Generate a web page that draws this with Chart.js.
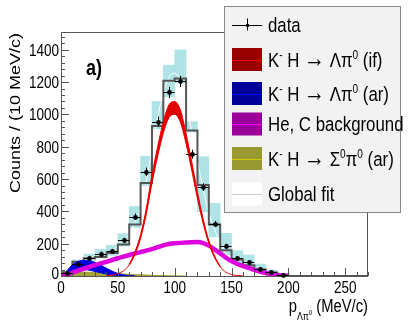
<!DOCTYPE html>
<html>
<head>
<meta charset="utf-8">
<script src="https://cdn.jsdelivr.net/npm/chart.js@4.4.1/dist/chart.umd.min.js"></script>
<style>
  html, body { margin: 0; padding: 0; background: #fff; }
  #c { display: block; }
</style>
</head>
<body>
<canvas id="c" width="409" height="327"></canvas>
<script>
// ---- data ----
const binCenters = [5, 15, 25, 35, 45, 55, 65, 75, 85, 95, 105, 115, 125, 135, 145, 155, 165, 175, 185, 195];
const dataCounts = [17, 72, 114, 139, 155, 221, 368, 645, 956, 1136, 1204, 754, 550, 323, 186, 112, 84, 45, 27, 4];
const dataErrors = [5, 9, 11, 12, 13, 15, 19, 26, 31, 34, 35, 28, 24, 18, 14, 11, 9, 7, 5, 2];
const systLow  = [8, 55, 95, 112, 128, 185, 300, 560, 910, 1110, 1195, 890, 398, 242, 130, 78, 47, 20, 12, 0];
const systHigh = [35, 100, 135, 165, 190, 262, 430, 740, 1080, 1305, 1400, 955, 738, 450, 264, 157, 130, 74, 37, 8];

// global fit histogram (value of each bin at its low edge, last point closes the range)
const binEdges = [0, 10, 20, 30, 40, 50, 60, 70, 80, 90, 100, 110, 120, 130, 140, 150, 160, 170, 180, 190, 200, 210, 220, 230, 240, 250, 260, 270];
const fitHist  = [23, 88, 110, 118, 142, 195, 318, 575, 929, 1208, 1222, 900, 563, 318, 160, 102, 67, 40, 22, 8, 0, 0, 0, 0, 0, 0, 0, 0];

// fit components sampled every 5 MeV/c
const curveX = [0, 5, 10, 15, 20, 25, 30, 35, 40, 45, 50, 55, 60, 65, 70, 75, 80, 85, 90, 95, 100,
                105, 110, 115, 120, 125, 130, 135, 140, 145, 150, 155, 160, 165, 170, 175, 180, 185, 190, 195, 200];
const ifLine = [null, null, null, null, null, null, null, null, 2, 6, 15, 32, 70, 140, 245, 400, 600, 770, 920, 1020, 1040,
                990, 850, 680, 500, 340, 210, 120, 58, 24, 9, 3, 1, null, null, null, null, null, null, null, null];
const ifHigh = [null, null, null, null, null, null, null, null, null, null, null, null, 73, 148, 257, 418, 625, 800, 955, 1060, 1080,
                1028, 882, 706, 520, 354, 219, 125, 60, null, null, null, null, null, null, null, null, null, null, null, null];
const ifLow  = [null, null, null, null, null, null, null, null, null, null, null, null, 67, 132, 233, 382, 575, 740, 885, 980, 1000,
                952, 818, 654, 480, 326, 201, 115, 56, null, null, null, null, null, null, null, null, null, null, null, null];
const arHigh = [null, 30, 70, 90, 96, 94, 84, 67, 48, 30, 16, 7, 2, 0, null, null, null, null, null, null, null,
                null, null, null, null, null, null, null, null, null, null, null, null, null, null, null, null, null, null, null, null];
const arLow  = [null, 8, 25, 36, 40, 36, 28, 20, 12, 6, 2, 0, 0, 0, null, null, null, null, null, null, null,
                null, null, null, null, null, null, null, null, null, null, null, null, null, null, null, null, null, null, null, null];
const bkgLine = [2, 8, 20, 33, 45, 57, 68, 78, 88, 99, 110, 120, 130, 139, 148, 157, 166, 178, 190, 198, 203,
                 205, 207, 209, 210, 204, 188, 165, 140, 114, 92, 75, 62, 50, 38, 27, 18, 11, 6, 3, 1];
const sigmaLine = [null, 16, 22, 24, 24, 23, 22, 20, 18, 16, 14, 12, 10, 8.5, 7, 5.5, 4, 3, 2, 1.5, 1,
                   0.5, 0, null, null, null, null, null, null, null, null, null, null, null, null, null, null, null, null, null, null];
const globalFit = [15, 30, 75, 105, 115, 118, 118, 128, 140, 160, 185, 220, 260, 330, 420, 580, 790, 980, 1130, 1230, 1255,
                   1200, 1060, 890, 710, 540, 390, 290, 200, 140, 105, 80, 62, 48, 38, 28, 18, 12, 6, 3, 1];

const xTickValues = [0, 50, 100, 150, 200, 250];
const yTickValues = [0, 200, 400, 600, 800, 1000, 1200, 1400];

const SANS = "'Liberation Sans', Arial, sans-serif";
const SQUEEZE = 0.82;   // the original picture is narrower than its text height suggests

function pts(xs, ys) {
    return xs.map((x, i) => ({ x: x, y: ys[i] }));
}

// draws text made of pieces [text, scale, dy], squeezed horizontally; returns the width
function drawPieces(ctx, pieces, x, y, size, weight, dryRun) {
    let cx = 0;
    ctx.save();
    ctx.translate(x, y);
    ctx.scale(SQUEEZE, 1);
    ctx.textAlign = 'left';
    pieces.forEach(([t, s, dy]) => {
        ctx.font = weight + ' ' + (size * s) + 'px ' + SANS;
        if (!dryRun) ctx.fillText(t, cx, dy);
        cx += ctx.measureText(t).width;
    });
    ctx.restore();
    return cx * SQUEEZE;
}

function drawLabel(ctx, text, x, y, size, align) {
    const w = drawPieces(ctx, [[text, 1, 0]], 0, 0, size, 'normal', true);
    const x0 = align === 'right' ? x - w : align === 'center' ? x - w / 2 : x;
    drawPieces(ctx, [[text, 1, 0]], x0, y, size, 'normal', false);
}

const ARROW = [' H ', 1, 0];
const legendEntries = [
    { kind: 'data', text: [['data', 1, 0]] },
    { kind: 'box', fill: '#990000', line: '#ff0000', text: [['K', 1, 0], ['-', 0.6, -8], ARROW, ['\u2192', 1.25, 0], [' \u039B\u03C0', 1, 0], ['0', 0.6, -8], [' (if)', 1, 0]] },
    { kind: 'box', fill: '#000099', line: '#0000ff', text: [['K', 1, 0], ['-', 0.6, -8], ARROW, ['\u2192', 1.25, 0], [' \u039B\u03C0', 1, 0], ['0', 0.6, -8], [' (ar)', 1, 0]] },
    { kind: 'box', fill: '#990099', line: '#ff00ff', text: [['He, C background', 1, 0]] },
    { kind: 'box', fill: '#999933', line: '#cccc00', text: [['K', 1, 0], ['-', 0.6, -8], ARROW, ['\u2192', 1.25, 0], [' \u03A3', 1, 0], ['0', 0.6, -8], ['\u03C0', 1, 0], ['0', 0.6, -8], [' (ar)', 1, 0]] },
    { kind: 'box', fill: '#ffffff', line: '#cccccc', text: [['Global fit', 1, 0]] }
];
const legendBaselines = [31.5, 66.5, 100.5, 131, 165.5, 201];

// frame, ROOT-style inner ticks and the tick labels
const framePlugin = {
    id: 'frame',
    afterDatasetsDraw(chart) {
        const { ctx, chartArea: a, scales: { x, y } } = chart;
        ctx.save();
        ctx.strokeStyle = '#555';
        ctx.lineWidth = 1;
        ctx.strokeRect(a.left + 0.5, a.top + 0.5, a.right - a.left - 1, a.bottom - a.top);
        ctx.beginPath();
        for (let v = 0; v <= 1500; v += 40) {
            const py = Math.round(y.getPixelForValue(v)) + 0.5;
            const len = v % 200 === 0 ? 8 : 4;
            ctx.moveTo(a.left, py); ctx.lineTo(a.left + len, py);
        }
        for (let v = 0; v <= 270; v += 10) {
            const px = Math.round(x.getPixelForValue(v)) + 0.5;
            const len = v % 50 === 0 ? 8 : 4;
            ctx.moveTo(px, a.bottom); ctx.lineTo(px, a.bottom - len);
        }
        ctx.stroke();

        ctx.fillStyle = '#000';
        ctx.textBaseline = 'alphabetic';
        y.ticks.forEach(t => {
            const py = y.getPixelForValue(t.value);
            drawLabel(ctx, String(t.value), a.left - 2, py + (t.value === 0 ? 3 : 6), 16.5, 'right');
        });
        x.ticks.forEach(t => {
            drawLabel(ctx, String(t.value), x.getPixelForValue(t.value), a.bottom + 17, 16.5, 'center');
        });
        ctx.restore();
    }
};

// data points with error bars (bin width horizontally, stat error vertically)
const errorBars = {
    id: 'errorBars',
    afterDatasetsDraw(chart) {
        const { ctx, scales: { x, y } } = chart;
        ctx.save();
        ctx.strokeStyle = '#000';
        ctx.lineWidth = 1;
        ctx.beginPath();
        binCenters.forEach((c, i) => {
            const px = Math.round(x.getPixelForValue(c)) + 0.5;
            const py = Math.round(y.getPixelForValue(dataCounts[i])) + 0.5;
            ctx.moveTo(x.getPixelForValue(c - 5), py);
            ctx.lineTo(x.getPixelForValue(c + 5), py);
            ctx.moveTo(px, y.getPixelForValue(dataCounts[i] - dataErrors[i]));
            ctx.lineTo(px, y.getPixelForValue(dataCounts[i] + dataErrors[i]));
        });
        ctx.stroke();
        ctx.fillStyle = '#000';
        binCenters.forEach((c, i) => {
            ctx.beginPath();
            ctx.arc(Math.round(x.getPixelForValue(c)) + 0.5, Math.round(y.getPixelForValue(dataCounts[i])) + 0.5, 2.4, 0, Math.PI * 2);
            ctx.fill();
        });
        ctx.restore();
    }
};

// titles, panel label and the legend box
const overlay = {
    id: 'overlay',
    afterDraw(chart) {
        const ctx = chart.ctx;
        ctx.save();
        ctx.fillStyle = '#000';
        ctx.textBaseline = 'alphabetic';

        // y title (rotated, so squeeze the glyph height instead)
        ctx.save();
        ctx.translate(20, 33);
        ctx.rotate(-Math.PI / 2);
        ctx.scale(1, SQUEEZE);
        ctx.textAlign = 'right';
        ctx.font = '18px ' + SANS;
        ctx.fillText('Counts / (10 MeV/c)', 0, 0);
        ctx.restore();

        // x title, right aligned to the frame
        const xt = [['p', 1, 0], ['\u039B\u03C0', 0.6, 8], ['0', 0.4, 3], [' (MeV/c)', 1, 0]];
        const w = drawPieces(ctx, xt, 0, 0, 18, 'normal', true);
        drawPieces(ctx, xt, chart.chartArea.right - w, 312, 18, 'normal', false);

        // panel label
        drawPieces(ctx, [['a)', 1, 0]], 86, 75, 22, 'bold', false);

        // legend
        ctx.fillStyle = '#f2f2f2';
        ctx.fillRect(225, 6, 176, 206);
        ctx.strokeStyle = '#888';
        ctx.lineWidth = 1;
        ctx.strokeRect(224.5, 6.5, 176, 206);
        legendEntries.forEach((e, i) => {
            const b = legendBaselines[i];
            const cy = b - 7;
            if (e.kind === 'data') {
                ctx.strokeStyle = '#000';
                ctx.beginPath();
                ctx.moveTo(232, Math.round(cy) + 0.5); ctx.lineTo(262, Math.round(cy) + 0.5);
                ctx.moveTo(247.5, cy - 6); ctx.lineTo(247.5, cy + 6);
                ctx.stroke();
                ctx.fillStyle = '#000';
                ctx.beginPath(); ctx.arc(247.5, Math.round(cy) + 0.5, 1.8, 0, Math.PI * 2); ctx.fill();
            } else {
                ctx.fillStyle = e.fill;
                ctx.fillRect(232, cy - 11.5, 30, 23);
                ctx.strokeStyle = e.line;
                ctx.beginPath();
                ctx.moveTo(232, Math.round(cy) + 0.5); ctx.lineTo(262, Math.round(cy) + 0.5);
                ctx.stroke();
            }
            ctx.fillStyle = '#000';
            drawPieces(ctx, e.text, 268, b, 20.5, 'normal', false);
        });
        ctx.restore();
    }
};

new Chart(document.getElementById('c'), {
    type: 'line',
    data: {
        datasets: [
            {   // systematic boxes
                type: 'bar',
                data: binCenters.map((c, i) => ({ x: c, y: [systLow[i], systHigh[i]] })),
                backgroundColor: 'rgba(150, 218, 220, 0.75)',
                borderWidth: 0,
                barPercentage: 1,
                categoryPercentage: 1,
                grouped: false,
                order: 10
            },
            {   // global fit curve
                data: pts(curveX, globalFit),
                borderColor: '#ffffff', borderWidth: 1, pointRadius: 0,
                cubicInterpolationMode: 'monotone', fill: false, order: 9
            },
            {   // global fit histogram
                data: pts(binEdges, fitHist),
                borderColor: '#555555', borderWidth: 2, pointRadius: 0,
                stepped: 'before', fill: false, order: 8
            },
            {   // Sigma0 pi0 (ar)
                data: pts(curveX, sigmaLine),
                borderColor: '#a0a030', backgroundColor: '#a5a535', borderWidth: 1, pointRadius: 0,
                cubicInterpolationMode: 'monotone', fill: 'origin', order: 7
            },
            {   // Lambda pi0 (ar) band
                data: pts(curveX, arHigh),
                borderColor: '#0000e0', backgroundColor: '#0000e0', borderWidth: 1, pointRadius: 0,
                cubicInterpolationMode: 'monotone', fill: '+1', order: 6
            },
            {
                data: pts(curveX, arLow),
                borderColor: '#0000e0', borderWidth: 1, pointRadius: 0,
                cubicInterpolationMode: 'monotone', fill: false, order: 6
            },
            {   // He, C background
                data: pts(curveX, bkgLine),
                borderColor: '#dd00dd', borderWidth: 4.5, pointRadius: 0,
                cubicInterpolationMode: 'monotone', fill: false, order: 5
            },
            {   // Lambda pi0 (if) band
                data: pts(curveX, ifHigh),
                borderColor: '#ee0000', backgroundColor: '#e00000', borderWidth: 1, pointRadius: 0,
                cubicInterpolationMode: 'monotone', fill: '+1', order: 4
            },
            {
                data: pts(curveX, ifLow),
                borderColor: '#ee0000', borderWidth: 1, pointRadius: 0,
                cubicInterpolationMode: 'monotone', fill: false, order: 4
            },
            {
                data: pts(curveX, ifLine),
                borderColor: '#e80000', borderWidth: 1, pointRadius: 0,
                cubicInterpolationMode: 'monotone', fill: false, order: 3
            }
        ]
    },
    options: {
        responsive: false,
        animation: false,
        devicePixelRatio: 1,
        layout: { padding: { top: 32, right: 41, left: 0, bottom: 0 } },
        plugins: { legend: { display: false }, tooltip: { enabled: false } },
        scales: {
            x: {
                type: 'linear', min: 0, max: 270, offset: false,
                grid: { display: false, drawTicks: false, offset: false },
                border: { display: false },
                afterBuildTicks: s => { s.ticks = xTickValues.map(v => ({ value: v })); },
                afterFit: s => { s.height = 51; },
                ticks: { display: false }
            },
            y: {
                type: 'linear', min: 0, max: 1510,
                grid: { display: false, drawTicks: false },
                border: { display: false },
                afterBuildTicks: s => { s.ticks = yTickValues.map(v => ({ value: v })); },
                afterFit: s => { s.width = 61; },
                ticks: { display: false }
            }
        }
    },
    plugins: [framePlugin, errorBars, overlay]
});
</script>
</body>
</html>
